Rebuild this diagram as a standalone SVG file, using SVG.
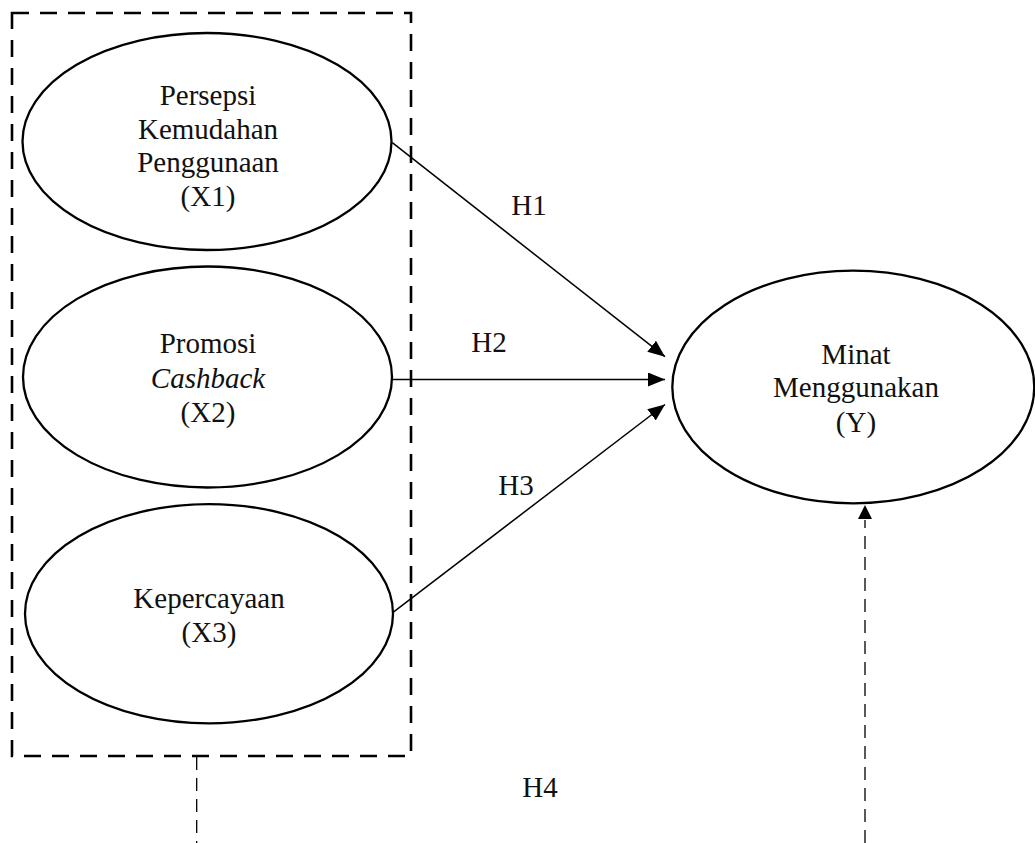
<svg xmlns="http://www.w3.org/2000/svg" width="1035" height="843" viewBox="0 0 1035 843">
<style>
  .node ellipse { fill: #fff; stroke: #000; stroke-width: 2.3; }
  text { font-family: "Liberation Serif", "Times New Roman", serif; font-size: 29px; fill: #111; text-anchor: middle; }
  .it { font-style: italic; }
  .conn { stroke: #000; stroke-width: 1.5; fill: none; }
  .dash { stroke: #000; stroke-width: 1.3; fill: none; stroke-dasharray: 13 8; }
  .frame { stroke: #000; stroke-width: 2.6; fill: none; stroke-dasharray: 17 11; }
</style>
<defs>
  <marker id="arr" markerUnits="userSpaceOnUse" markerWidth="18" markerHeight="16" refX="17" refY="7" orient="auto">
    <path d="M0,0 L17,7 L0,14 Z" fill="#000"/>
  </marker>
</defs>
<rect width="1035" height="843" fill="#fff"/>
<g id="group-frame">
  <rect class="frame" x="12" y="13" width="399" height="743"/>
</g>
<g id="node-x1" class="node">
  <ellipse cx="207" cy="141.5" rx="184.5" ry="108.5"/>
  <text x="208" y="105">Persepsi</text>
  <text x="208" y="138.5">Kemudahan</text>
  <text x="208" y="172">Penggunaan</text>
  <text x="208" y="205.5">(X1)</text>
</g>
<g id="node-x2" class="node">
  <ellipse cx="207.5" cy="377" rx="184.5" ry="110.5"/>
  <text x="208" y="353.3">Promosi</text>
  <text x="208" y="388.3" class="it">Cashback</text>
  <text x="208" y="422.3">(X2)</text>
</g>
<g id="node-x3" class="node">
  <ellipse cx="209" cy="613.7" rx="184" ry="109.6"/>
  <text x="209" y="607.7">Kepercayaan</text>
  <text x="209" y="641.7">(X3)</text>
</g>
<g id="node-y" class="node">
  <ellipse cx="853.3" cy="387" rx="181" ry="116.3"/>
  <text x="856" y="364">Minat</text>
  <text x="856" y="397.3">Menggunakan</text>
  <text x="856" y="431.7">(Y)</text>
</g>
<g id="connectors">
  <line class="conn" x1="392.3" y1="142.7" x2="665" y2="356.7" marker-end="url(#arr)"/>
  <line class="conn" x1="392" y1="379.5" x2="665" y2="379.5" marker-end="url(#arr)"/>
  <line class="conn" x1="392.7" y1="612.7" x2="665" y2="404.5" marker-end="url(#arr)"/>
  <line class="dash" x1="196.7" y1="757" x2="196.7" y2="843"/>
  <line class="dash" x1="865" y1="843" x2="865" y2="520"/>
  <path d="M865,505 L872,519 L858,519 Z" fill="#000"/>
</g>
<g id="labels">
  <text x="529" y="215">H1</text>
  <text x="489" y="352.3">H2</text>
  <text x="516" y="495">H3</text>
  <text x="540" y="796.7">H4</text>
</g>
</svg>
